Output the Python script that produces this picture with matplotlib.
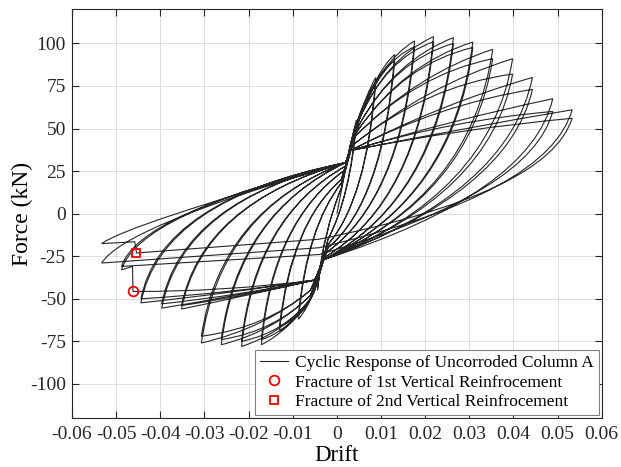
import matplotlib
matplotlib.use("Agg")
import matplotlib.pyplot as plt
from matplotlib.path import Path
from matplotlib.patches import PathPatch
from matplotlib.lines import Line2D

plt.rcParams["font.family"] = ["Liberation Serif", "DejaVu Serif"]
plt.rcParams["axes.unicode_minus"] = False

# amplitude levels (drift), two cycles per level
amp_pos = [0.0044, 0.0088, 0.0131, 0.0176, 0.0219, 0.0264, 0.0308, 0.0353, 0.0398, 0.0443, 0.0489, 0.0533]
amp_neg = [-0.0044, -0.0087, -0.0130, -0.0171, -0.0216, -0.0262, -0.0307, -0.0352, -0.0397, -0.0444, -0.0488, -0.0533]

# peak forces (kN), 1st and 2nd cycle of each level
peak_pos_1 = [55, 80, 93.5, 101.4, 104, 103.4, 100.8, 96.5, 91, 80, 67.5, 61]
peak_pos_2 = [52, 77, 90, 98, 101, 100, 97.6, 91, 82, 73, 60, 56]
peak_neg_1 = [-45, -62, -69, -77, -78, -77, -76, -56, -55.5, -52.4, -33, -29]
peak_neg_2 = [-42, -59, -66, -74, -75, -74, -72, -54, -53, -50, -31, -17.6]

# read-off shape points of each level: unloading knees, loading bends, pinch points
pos_knee_d = [0.003, 0.0068, 0.0105, 0.0145, 0.0185, 0.0225, 0.0265, 0.0305, 0.035, 0.039, 0.044, 0.048]
pos_knee_f = [10, 8, 7, 7, 7, 8, 9, 10, 11, 12, 12, 12]
pos_end_d = [-0.002, -0.002, -0.002, -0.003, -0.003, -0.003, -0.003, -0.003, -0.003, -0.003, -0.003, -0.003]
pos_end_f = [-15, -18, -20, -24, -26, -27, -27, -27, -27, -27, -27, -27]
neg_knee_d = [-0.003, -0.0068, -0.0105, -0.0145, -0.0185, -0.0225, -0.0265, -0.0305, -0.035, -0.040, -0.045, -0.048]
neg_knee_f = [-10, -8, -6, -4, -2, 0, 2, 6, 8, 8, 0, -7]
neg_end_d = [0.001, 0.001, 0.001, 0.002, 0.002, 0.002, 0.002, 0.002, 0.002, 0.002, 0.002, 0.002]
neg_end_f = [15, 18, 20, 26, 28, 30, 30, 30, 30, 30, 30, 30]

core_top_d = [0.003, 0.004, 0.005, 0.005, 0.005, 0.005, 0.0045, 0.004, 0.0035, 0.003, 0.003, 0.003]
core_top_f = [40, 50, 55, 55, 55, 52, 48, 45, 40, 37, 37, 37]
core_bot_d = [-0.004, -0.005, -0.006, -0.006, -0.006, -0.006, -0.006, -0.005, -0.005, -0.005, -0.005, -0.005]
core_bot_f = [-36, -45, -50, -50, -50, -48, -45, -39, -39, -39, -39, -39]

pos_bend_d = [0.004, 0.007, 0.009, 0.010, 0.011, 0.013, 0.015, 0.018, 0.020, 0.023, 0.026, 0.028]
pos_bend_f = [50, 72, 84, 90, 91, 90, 88, 82, 75, 64, 55, 50]
neg_bend_d = [-0.0042, -0.007, -0.009, -0.011, -0.012, -0.014, -0.016, -0.020, -0.022, -0.025, -0.026, -0.028]
neg_bend_f = [-42, -57, -63, -69, -70, -69, -67, -48, -48, -47, -42, -33]

# after the first fracture the pinched branch stays flat (cycle index: start point)
late_start = {21: (-0.004, -24), 22: (-0.004, -20), 23: (-0.004, -15)}

# fractures
frac1 = (-0.0462, -45.7)
frac1_drop = (-0.0463, -31.0)
frac2 = (-0.0454, -23.1)
frac2_drop = (-0.0458, -16.5)


def build_path():
    verts = [(0.0, 0.0)]
    codes = [Path.MOVETO]

    def line(p):
        verts.append(p)
        codes.append(Path.LINETO)

    def curve(c, p):
        verts.extend([c, p])
        codes.extend([Path.CURVE3, Path.CURVE3])

    for i in range(24):
        lv = i // 2
        fp = peak_pos_1[lv] if i % 2 == 0 else peak_pos_2[lv]
        fn = peak_neg_1[lv] if i % 2 == 0 else peak_neg_2[lv]
        tip = (amp_neg[lv], fn)
        line((core_top_d[lv], core_top_f[lv]))
        curve((pos_bend_d[lv], pos_bend_f[lv]), (amp_pos[lv], fp))
        if i in late_start:
            start = late_start[i]
            curve((pos_knee_d[lv], pos_knee_f[lv]), start)
            target = frac2 if i == 23 else tip
            mid = ((start[0] + target[0]) / 2, (start[1] + target[1]) / 2)
            curve(mid, target)
            if i == 23:
                line(frac2_drop)
                line(tip)
        else:
            curve((pos_knee_d[lv], pos_knee_f[lv]), (pos_end_d[lv], pos_end_f[lv]))
            line((core_bot_d[lv], core_bot_f[lv]))
            if i == 20:
                curve((neg_bend_d[lv], neg_bend_f[lv] - 4), frac1)
                line(frac1_drop)
                line(tip)
            else:
                curve((neg_bend_d[lv], neg_bend_f[lv]), tip)
        curve((neg_knee_d[lv], neg_knee_f[lv]), (neg_end_d[lv], neg_end_f[lv]))
    return Path(verts, codes)


fig = plt.figure(figsize=(6.21, 4.67), dpi=100)
ax = fig.add_axes([0.116, 0.105, 0.853, 0.875])

ax.add_patch(PathPatch(build_path(), facecolor="none", edgecolor="#262626", lw=0.8))
ax.plot(*frac1, "o", ms=7, mfc="none", mec="red", mew=1.3)
ax.plot(*frac2, "s", ms=6, mfc="none", mec="red", mew=1.3)

ax.set_xlim(-0.06, 0.06)
ax.set_ylim(-120, 120)
ax.set_xticks([-0.06, -0.05, -0.04, -0.03, -0.02, -0.01, 0, 0.01, 0.02, 0.03, 0.04, 0.05, 0.06])
ax.set_xticklabels(["-0.06", "-0.05", "-0.04", "-0.03", "-0.02", "-0.01", "0",
                    "0.01", "0.02", "0.03", "0.04", "0.05", "0.06"])
ax.set_yticks([-100, -75, -50, -25, 0, 25, 50, 75, 100])
ax.grid(True, color="#dedede", lw=0.7)
ax.set_axisbelow(True)
ax.tick_params(direction="in", top=True, right=True, length=5, labelsize=14, colors="#262626")
ax.tick_params(axis="x", pad=6)
ax.tick_params(axis="y", pad=4.5)
for s in ax.spines.values():
    s.set_color("#262626")
    s.set_linewidth(0.8)
ax.set_xlabel("Drift", fontsize=16.5, labelpad=1.5)
ax.set_ylabel("Force (kN)", fontsize=17, labelpad=-2)

handles = [
    Line2D([], [], color="#262626", lw=0.8),
    Line2D([], [], ls="none", marker="o", ms=7, mfc="none", mec="red", mew=1.3),
    Line2D([], [], ls="none", marker="s", ms=6, mfc="none", mec="red", mew=1.3),
]
labels = ["Cyclic Response of Uncorroded Column A",
          "Fracture of 1st Vertical Reinfrocement",
          "Fracture of 2nd Vertical Reinfrocement"]
leg = ax.legend(handles, labels, loc="lower right", fontsize=12.5, fancybox=False,
                framealpha=1, edgecolor="#808080", borderaxespad=0.15,
                handlelength=1.6, handletextpad=0.4, borderpad=0.3, labelspacing=0.2)
leg.get_frame().set_linewidth(0.8)

fig.savefig("out.png", dpi=100)
